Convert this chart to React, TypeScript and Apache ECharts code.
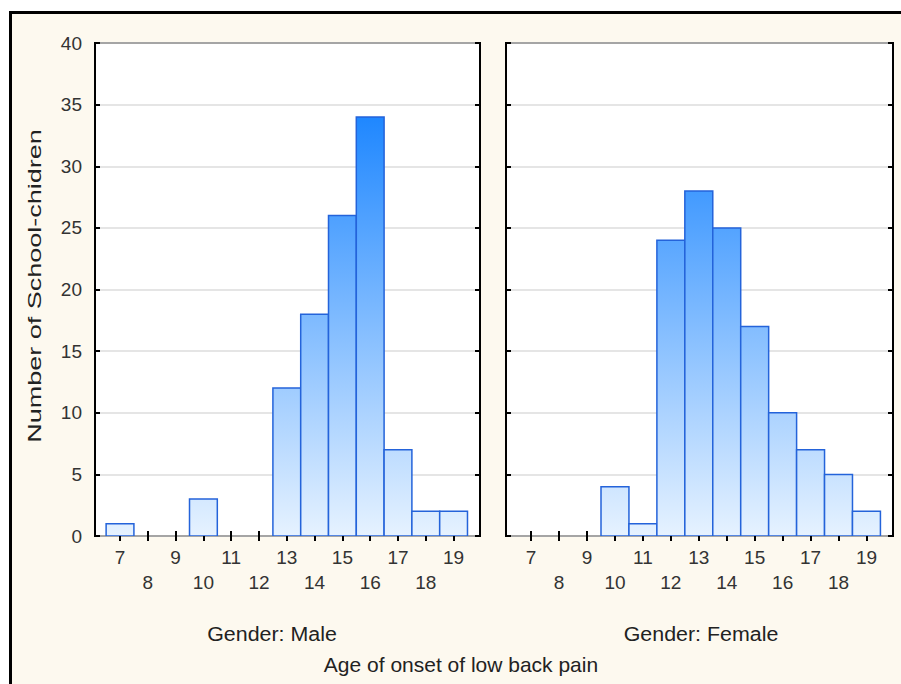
import React, { useEffect, useRef } from "react";
import * as echarts from "echarts";

const ages = [7, 8, 9, 10, 11, 12, 13, 14, 15, 16, 17, 18, 19];
const maleCounts = [1, 0, 0, 3, 0, 0, 12, 18, 26, 34, 7, 2, 2];
const femaleCounts = [0, 0, 0, 4, 1, 24, 28, 25, 17, 10, 7, 5, 2];
const yMax = 40;
const yStep = 5;
const panelTitles = ["Gender: Male", "Gender: Female"];
const xTitle = "Age of onset of low back pain";
const yTitle = "Number of School-chidren";

const FONT = "'Liberation Sans', Arial, sans-serif";

export default function App() {
  const ref = useRef<HTMLDivElement>(null);
  useEffect(() => {
    if (!ref.current) return;
    const chart = echarts.init(ref.current, null, { renderer: "svg" });

    const grids = [
      { left: 95, top: 43, width: 385, height: 493 },
      { left: 506, top: 43, width: 387, height: 493 },
    ];

    const xAxes: any[] = [];
    const yAxes: any[] = [];
    grids.forEach((g, i) => {
      const base = {
        type: "value",
        gridIndex: i,
        min: 6.1,
        max: 19.95,
        axisLine: { show: false },
        splitLine: { show: false },
        axisTick: {
          show: true,
          inside: true,
          length: 5,
          customValues: ages,
          lineStyle: { color: "#000", width: 2 },
        },
      };
      xAxes.push({
        ...base,
        position: "bottom",
        axisLabel: {
          show: true,
          customValues: ages,
          color: "#333",
          fontFamily: FONT,
          fontSize: 19,
          lineHeight: 25,
          margin: 9,
          formatter: (v: number) => (v % 2 === 0 ? "\n" + v : String(v)),
        },
      });
      xAxes.push({
        ...base,
        position: "top",
        axisLabel: { show: false },
      });
      const ybase = {
        type: "value",
        gridIndex: i,
        min: 0,
        max: yMax,
        interval: yStep,
        axisLine: { show: false },
        axisTick: {
          show: true,
          inside: true,
          length: 5,
          lineStyle: { color: "#000", width: 2 },
        },
      };
      yAxes.push({
        ...ybase,
        position: "left",
        splitLine: { show: true, lineStyle: { color: "#dcdcdc", width: 1.5 } },
        axisLabel: {
          show: i === 0,
          color: "#333",
          fontFamily: FONT,
          fontSize: 19,
          margin: 13,
        },
      });
      yAxes.push({
        ...ybase,
        position: "right",
        splitLine: { show: false },
        axisLabel: { show: false },
      });
    });

    const makeSeries = (counts: number[], gi: number) => ({
      type: "custom",
      xAxisIndex: gi * 2,
      yAxisIndex: gi * 2,
      clip: true,
      data: ages.map((a, k) => [a, counts[k]]),
      renderItem: (params: any, api: any) => {
        const x = api.value(0);
        const y = api.value(1);
        if (!(y > 0)) return null;
        const p1 = api.coord([x - 0.5, y]);
        const p2 = api.coord([x + 0.5, 0]);
        const gTop = api.coord([x, 35])[1];
        const gBot = api.coord([x, 0])[1];
        return {
          type: "rect",
          shape: { x: p1[0], y: p1[1], width: p2[0] - p1[0], height: p2[1] - p1[1] },
          style: {
            fill: new echarts.graphic.LinearGradient(
              0, gTop, 0, gBot,
              [
                { offset: 0, color: "#1984ff" },
                { offset: 1, color: "#e6f2ff" },
              ],
              true
            ),
            stroke: "#2463da",
            lineWidth: 1.5,
          },
        };
      },
    });

    const titleText = (text: string, x: number, y: number, sx: number) => ({
      type: "text",
      x,
      y,
      scaleX: sx,
      style: {
        text,
        font: `20px ${FONT}`,
        fill: "#222",
        textAlign: "center",
        textVerticalAlign: "middle",
      },
    });

    chart.setOption({
      animation: false,
      backgroundColor: "#ffffff",
      grid: grids.map((g) => ({
        ...g,
        show: true,
        backgroundColor: "#ffffff",
        borderColor: "#000",
        borderWidth: 2,
        containLabel: false,
      })),
      xAxis: xAxes,
      yAxis: yAxes,
      series: [makeSeries(maleCounts, 0), makeSeries(femaleCounts, 1)],
      graphic: [
        {
          type: "rect",
          z: -100,
          silent: true,
          shape: { x: 10.5, y: 12.5, width: 1000, height: 1000 },
          style: { fill: "#fdf9ef", stroke: "#000", lineWidth: 3 },
        },
        titleText(panelTitles[0], 272, 634, 1.07),
        titleText(panelTitles[1], 701, 634, 1.07),
        titleText(xTitle, 461, 665, 1.05),
        {
          type: "text",
          x: 35,
          y: 286,
          rotation: Math.PI / 2,
          scaleX: 1.5,
          style: {
            text: yTitle,
            font: `18px ${FONT}`,
            fill: "#222",
            textAlign: "center",
            textVerticalAlign: "middle",
          },
        },
      ],
    });
    return () => chart.dispose();
  }, []);
  return (
    <div
      ref={ref}
      style={{ position: "absolute", left: 0, top: 0, width: 901, height: 684 }}
    />
  );
}
